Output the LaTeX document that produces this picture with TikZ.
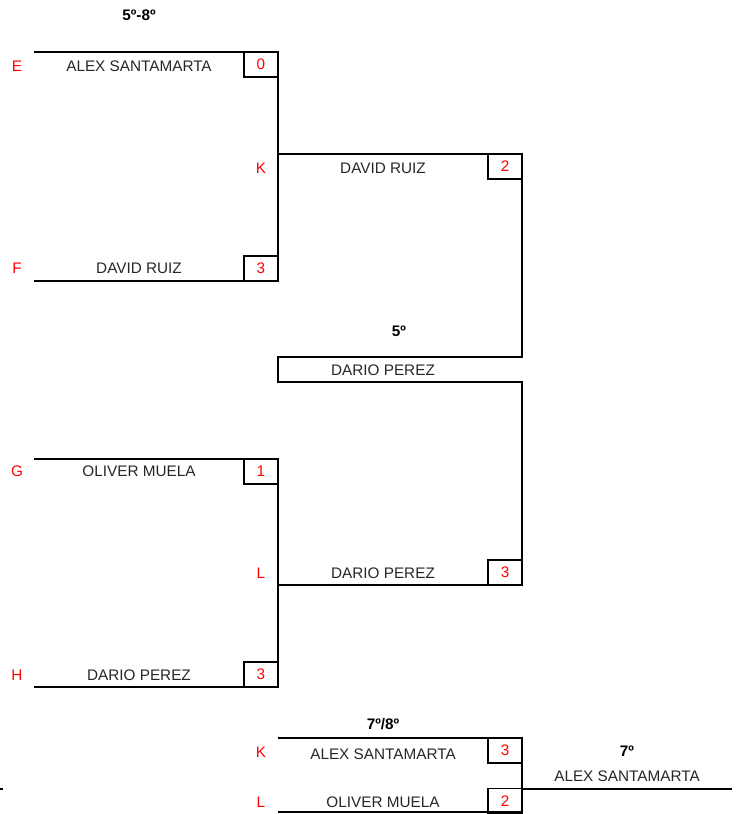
\documentclass[tikz,border=0pt]{standalone}
\usepackage{fontspec}
\setmainfont{Liberation Sans}
\begin{document}
\begin{tikzpicture}[x=1pt,y=-1pt,
  ln/.style={line width=1.7pt, line join=miter},
  txtbase/.style={inner sep=0pt, anchor=center, text height=11pt, text depth=0pt, font=\fontsize{15.3}{17}\selectfont},
  pname/.style={txtbase, text=black!85},
  plab/.style={txtbase, text=red},
  ptitle/.style={txtbase, font=\fontsize{15.3}{17}\selectfont\bfseries},
  score/.style={draw, line width=1.7pt, minimum width=34pt, minimum height=25pt, inner sep=0pt, text=red, font=\fontsize{15.3}{17}\selectfont, anchor=center}]
\useasboundingbox (0,0) rectangle (740,814);
% titles
\node[ptitle] (t58) at (139,15) {5º-8º};
\node[ptitle] (t5) at (399,331) {5º};
\node[ptitle] (t78) at (383,724) {7º/8º};
\node[ptitle] (t7) at (627,751) {7º};
% corners
\coordinate (e0) at (34,52);   \coordinate (e1) at (278,52);
\coordinate (f0) at (34,281);  \coordinate (f1) at (278,281);
\coordinate (k0) at (278,154); \coordinate (k1) at (522,154);
\coordinate (p0) at (522,357); \coordinate (p1) at (278,357);
\coordinate (p2) at (278,382); \coordinate (p3) at (522,382);
\coordinate (l1) at (522,585); \coordinate (l0) at (278,585);
\coordinate (g0) at (34,459);  \coordinate (g1) at (278,459);
\coordinate (h0) at (34,687);  \coordinate (h1) at (278,687);
\coordinate (kb0) at (278,738); \coordinate (kb1) at (522,738);
\coordinate (kb2) at (522,814);
\coordinate (lb0) at (278,812); \coordinate (lb1) at (522,812);
\coordinate (w0) at (522,789); \coordinate (w1) at (732,789);
\coordinate (tk0) at (0,789); \coordinate (tk1) at (2.5,789);
% bracket lines
\draw[ln] (e0) -- (e1) -- (f1) -- (f0);
\draw[ln] (k0) -- (k1) -- (p0) -- (p1) -- (p2) -- (p3) -- (l1) -- (l0);
\draw[ln] (g0) -- (g1) -- (h1) -- (h0);
\draw[ln] (kb0) -- (kb1) -- (kb2);
\draw[ln] (lb0) -- (lb1);
\draw[ln] (w0) -- (w1);
\draw[line width=1.2pt] (tk0) -- (tk1);
% score boxes
\node[score] (se) at (261,64.5) {0};
\node[score] (sf) at (261,268.5) {3};
\node[score] (sk) at (505,166.5) {2};
\node[score] (sg) at (261,471.5) {1};
\node[score] (sl) at (505,572.5) {3};
\node[score] (sh) at (261,674.5) {3};
\node[score] (skb) at (505,750.5) {3};
\node[score] (slb) at (505,801) {2};
% letters
\node[plab] (le) at (17,66) {E};
\node[plab] (lf) at (17,268) {F};
\node[plab] (lg) at (17,471) {G};
\node[plab] (lh) at (17,675) {H};
\node[plab] (lk) at (261,168) {K};
\node[plab] (ll) at (261,573) {L};
\node[plab] (lkb) at (261,752) {K};
\node[plab] (llb) at (261,802) {L};
% names
\node[pname] (ne) at (139,66) {ALEX SANTAMARTA};
\node[pname] (nf) at (139,268) {DAVID RUIZ};
\node[pname] (nk) at (383,168) {DAVID RUIZ};
\node[pname] (n5) at (383,370) {DARIO PEREZ};
\node[pname] (ng) at (139,471) {OLIVER MUELA};
\node[pname] (nl) at (383,573) {DARIO PEREZ};
\node[pname] (nh) at (139,675) {DARIO PEREZ};
\node[pname] (nkb) at (383,754) {ALEX SANTAMARTA};
\node[pname] (nlb) at (383,802) {OLIVER MUELA};
\node[pname] (n7) at (627,776) {ALEX SANTAMARTA};
\end{tikzpicture}
\end{document}
